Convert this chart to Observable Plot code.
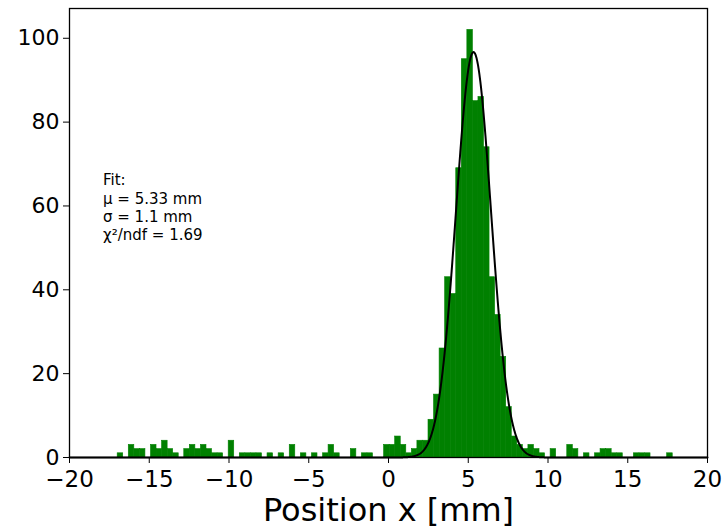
<!DOCTYPE html>
<html>
<head>
<meta charset="utf-8">
<script src="https://cdn.jsdelivr.net/npm/d3@7"></script>
<script src="https://cdn.jsdelivr.net/npm/@observablehq/plot@0.6"></script>
<style>
  html, body { margin: 0; padding: 0; background: #fff; }
  svg { font-family: "DejaVu Sans", sans-serif; }
</style>
</head>
<body>
<div id="chart"></div>
<script>
// Histogram: 100 equal bins
const binStart = -16.98;
const binWidth = 0.348;
const counts = [
  1, 0, 3, 2, 2, 0, 3, 2, 4, 2,
  1, 0, 2, 3, 2, 3, 2, 1, 1, 0,
  4, 0, 1, 1, 1, 1, 0, 1, 0, 1,
  0, 3, 0, 1, 0, 1, 0, 1, 3, 1,
  0, 0, 2, 0, 1, 1, 0, 0, 3, 3,
  5, 3, 1, 2, 4, 4, 9, 15, 26, 43,
  39, 69, 95, 102, 85, 86, 74, 43, 34, 24,
  12, 5, 3, 2, 3, 2, 1, 0, 2, 0,
  0, 3, 2, 0, 1, 0, 1, 2, 2, 1,
  1, 0, 0, 1, 1, 1, 0, 0, 0, 1
];

// Gaussian fit parameters
const fitMu = 5.33;
const fitSigma = 1.1;
const fitAmp = 96.7;
const fitLines = ["Fit:", "μ = 5.33 mm", "σ = 1.1 mm", "χ²/ndf = 1.69"];

const xTicks = [-20, -15, -10, -5, 0, 5, 10, 15, 20];
const yTicks = [0, 20, 40, 60, 80, 100];
const xLabel = "Position x [mm]";

const bins = counts.map((c, i) => ({
  x1: binStart + i * binWidth,
  x2: binStart + (i + 1) * binWidth,
  count: c
})).filter(d => d.count > 0);

const curve = d3.range(-20, 20.0001, 0.02).map(x => ({
  x,
  y: fitAmp * Math.exp(-0.5 * ((x - fitMu) / fitSigma) ** 2)
}));

const fmt = d3.format("d");

const chart = Plot.plot({
  width: 724,
  height: 529,
  marginLeft: 69,
  marginRight: 17,
  marginTop: 8,
  marginBottom: 72,
  style: { fontFamily: "DejaVu Sans, sans-serif", color: "black", background: "white" },
  x: { domain: [-20, 20] },
  y: { domain: [0, 107.1] },
  marks: [
    Plot.rectY(bins, { x1: "x1", x2: "x2", y: "count", fill: "#008000", stroke: "#008000", strokeWidth: 0.6, inset: 0 }),
    Plot.line(curve, { x: "x", y: "y", stroke: "black", strokeWidth: 2 }),
    Plot.text([fitLines.join("\n")], {
      x: -17.9, y: 68, text: d => d,
      textAnchor: "start", lineAnchor: "top",
      fontSize: 15, lineHeight: 1.22, fill: "black"
    }),
    Plot.frame({ stroke: "black", strokeWidth: 1.3 }),
    Plot.axisX({ ticks: xTicks, tickFormat: fmt, tickSize: 6, tickPadding: 7, fontSize: 23, label: null }),
    Plot.axisY({ ticks: yTicks, tickFormat: fmt, tickSize: 6, tickPadding: 4, fontSize: 22, label: null }),
    Plot.text([xLabel], { frameAnchor: "bottom", dy: 53, lineAnchor: "middle", fontSize: 32, fill: "black" })
  ]
});

document.getElementById("chart").appendChild(chart);
</script>
</body>
</html>
